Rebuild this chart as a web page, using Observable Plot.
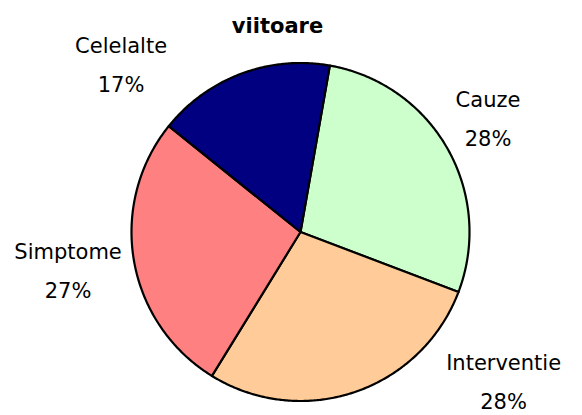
<!DOCTYPE html>
<html>
<head>
<meta charset="utf-8">
<script src="https://cdn.jsdelivr.net/npm/d3@7"></script>
<script src="https://cdn.jsdelivr.net/npm/@observablehq/plot@0.6"></script>
<style>
  html, body { margin: 0; padding: 0; background: #fff; }
  #chart svg { display: block; }
</style>
</head>
<body>
<div id="chart"></div>
<script>
// ---- data ----
const title = "viitoare";
const categories = ["Cauze", "Interventie", "Simptome", "Celelalte"];
const values = [28, 28, 27, 17];
const colors = ["#CCFFCC", "#FFCC99", "#FF8080", "#000080"];

// ---- layout (not data) ----
const W = 582, H = 415;
const cx = 300, cy = 231.5, R = 169;      // pixel centre / radius of the pie
const startDeg = 10;                        // first slice starts 10° clockwise from top
// label placement: polar (degrees clockwise from top, radius in pie radii)
const labelLayout = {
  "Celelalte":   {angle: -47.2, radius: 1.447},
  "Cauze":       {angle: 59.1,  radius: 1.293},
  "Simptome":    {angle: 260.4, radius: 1.395},
  "Interventie": {angle: 126.6, radius: 1.497}
};

const rad = (d) => d * Math.PI / 180;
const pie = d3.pie().sort(null).value(d => d.value).startAngle(rad(startDeg)).endAngle(rad(startDeg + 360));
const rows = categories.map((c, i) => ({category: c, value: values[i]}));
const arcs = pie(rows);
const total = d3.sum(values);

// polygon outlines for each slice (unit radius, y up)
const slicePts = [];
for (const a of arcs) {
  const c = a.data.category;
  slicePts.push({category: c, x: 0, y: 0});
  const n = Math.max(2, Math.ceil((a.endAngle - a.startAngle) / rad(0.5)));
  for (let k = 0; k <= n; k++) {
    const t = a.startAngle + (a.endAngle - a.startAngle) * k / n;
    slicePts.push({category: c, x: Math.sin(t), y: Math.cos(t)});
  }
  slicePts.push({category: c, x: 0, y: 0});
}

const labels = arcs.map(a => {
  const c = a.data.category;
  const L = labelLayout[c];
  return {
    category: c,
    pct: Math.round(a.data.value / total * 100) + "%",
    x: Math.sin(rad(L.angle)) * L.radius,
    y: Math.cos(rad(L.angle)) * L.radius
  };
});

const font = "DejaVu Sans, Verdana, sans-serif";

const chart = Plot.plot({
  width: W,
  height: H,
  margin: 0,
  style: {fontFamily: font, background: "#fff", overflow: "visible"},
  x: {domain: [-cx / R, (W - cx) / R], range: [0, W], axis: null},
  y: {domain: [(cy - H) / R, cy / R], range: [H, 0], axis: null},
  color: {domain: categories, range: colors},
  marks: [
    Plot.line(slicePts, {
      x: "x", y: "y", z: "category", fill: "category",
      stroke: "#000", strokeWidth: 2.2, strokeLinejoin: "round", curve: "linear"
    }),
    Plot.text(labels, {
      x: "x", y: "y", text: "category", dy: -19.5,
      fontSize: 21, fill: "#000", textAnchor: "middle", lineAnchor: "middle"
    }),
    Plot.text(labels, {
      x: "x", y: "y", text: "pct", dy: 19.5,
      fontSize: 21, fill: "#000", textAnchor: "middle", lineAnchor: "middle"
    }),
    Plot.text([title], {
      frameAnchor: "top", dx: -14, dy: 18, text: d => d,
      fontSize: 21, fontWeight: "bold", fill: "#000", lineAnchor: "top"
    })
  ]
});

document.getElementById("chart").appendChild(chart);
</script>
</body>
</html>
